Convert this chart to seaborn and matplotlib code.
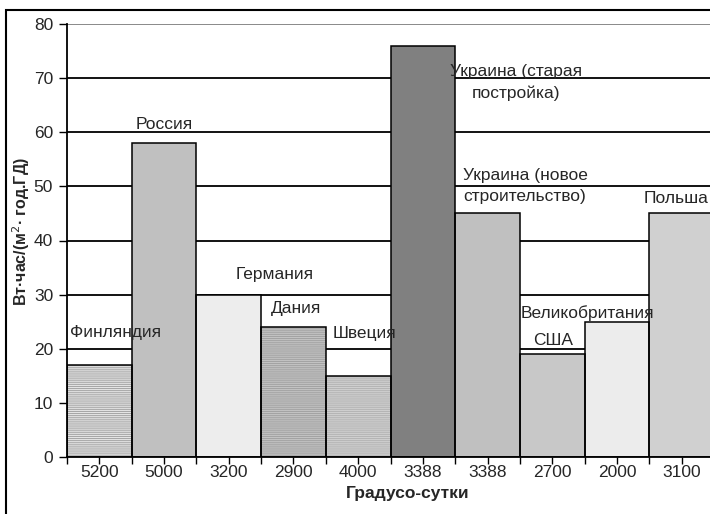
import matplotlib
matplotlib.use("Agg")
import matplotlib.pyplot as plt
from matplotlib.patches import Rectangle
import seaborn as sns
import pandas as pd
import numpy as np

# Specific heating energy by country vs. heating degree-days
countries = ["Финляндия", "Россия", "Германия", "Дания", "Швеция",
             "Украина (старая\nпостройка)", "Украина (новое\nстроительство)",
             "США", "Великобритания", "Польша"]
degree_days = ["5200", "5000", "3200", "2900", "4000",
               "3388", "3388", "2700", "2000", "3100"]
values = [17, 58, 30, 24, 15, 76, 45, 19, 25, 45]

# fill tone, pattern tone and pattern for each bar
fills = ["#e4e4e4", "#c0c0c0", "#ededed", "#c2c2c2", "#cfcfcf",
         "#808080", "#c0c0c0", "#c8c8c8", "#ececec", "#d0d0d0"]
pattern_colors = ["#a4a4a4", "#c0c0c0", "#d0d0d0", "#a2a2a2", "#b4b4b4",
                  "#808080", "#c0c0c0", "#a0a0a0", "#cccccc", "#b0b0b0"]
patterns = ["--------", "", "", "--------", "--------",
            "", "", "", "", ""]

# label placement: (x, y, horizontal alignment)
label_pos = [(-0.45, 23.0, "left"), (1.0, 61.5, "center"), (2.10, 33.8, "left"),
             (2.65, 27.4, "left"), (3.61, 22.9, "left"), (6.44, 69.2, "center"),
             (6.58, 50.0, "center"), (7.01, 21.6, "center"), (7.55, 26.6, "center"),
             (8.91, 47.7, "center")]

FS = 12.5

sns.set_style("white")
plt.rcParams["font.family"] = ["Liberation Sans", "DejaVu Sans"]
plt.rcParams["hatch.linewidth"] = 0.7

df = pd.DataFrame({"pos": range(len(values)), "value": values})

fig = plt.figure(figsize=(7.10, 5.14), dpi=100)
ax = fig.add_axes([67 / 710, 57 / 514, 647 / 710, 433 / 514])

# horizontal grid behind the bars
for yv in range(10, 80, 10):
    ax.axhline(yv, color="black", lw=1.3, zorder=0)
ax.axhline(80, color="#808080", lw=1.3, zorder=0)

# patterned fills
sns.barplot(data=df, x="pos", y="value", hue="pos", palette=fills,
            saturation=1, width=1.0, linewidth=0, legend=False,
            native_scale=True, ax=ax, zorder=2)
for patch, pc, hp in zip(ax.patches, pattern_colors, patterns):
    patch.set_edgecolor(pc)
    patch.set_linewidth(0)
    if hp:
        patch.set_hatch(hp)

# black outlines on top
sns.barplot(data=df, x="pos", y="value", hue="pos",
            palette=["black"] * len(values), fill=False, saturation=1,
            width=1.0, linewidth=1.1, legend=False,
            native_scale=True, ax=ax, zorder=3)

ax.set_xlim(-0.5, len(values) - 0.5)
ax.set_ylim(0, 80)
ax.set_yticks(range(0, 81, 10))
ax.set_yticklabels([str(v) for v in range(0, 81, 10)], fontsize=FS)
ax.set_xticks(range(len(values)))
ax.set_xticklabels(degree_days, fontsize=FS)
ax.set_xticks(np.arange(-0.5, len(values), 1.0), minor=True)
ax.tick_params(axis="x", which="both", direction="out", length=5, width=1,
               color="black", bottom=True, pad=1)
ax.tick_params(axis="y", direction="out", length=6, width=1, color="black",
               left=True, pad=4)

for side in ("top", "right"):
    ax.spines[side].set_visible(False)
for side in ("left", "bottom"):
    ax.spines[side].set_color("black")
    ax.spines[side].set_linewidth(1.3)
    ax.spines[side].set_zorder(4)

for name, (lx, ly, ha) in zip(countries, label_pos):
    ax.text(lx, ly, name, ha=ha, va="center", fontsize=FS,
            linespacing=1.5, zorder=5)

ax.set_xlabel("Градусо-сутки", fontsize=FS, fontweight="bold")
ax.xaxis.set_label_coords(0.527, -0.068)
ax.set_ylabel("Вт·час/(м$^{2}$· год.ГД)", fontsize=11.5, fontweight="bold")
ax.yaxis.set_label_coords(-0.054, 0.52)

# outer chart frame
fig.patches.append(Rectangle((6 / 710, -0.1), 1.2, (514 - 10) / 514 + 0.1,
                             transform=fig.transFigure, fill=False,
                             edgecolor="black", lw=1.5, zorder=10))

fig.savefig("out.png", dpi=100)
